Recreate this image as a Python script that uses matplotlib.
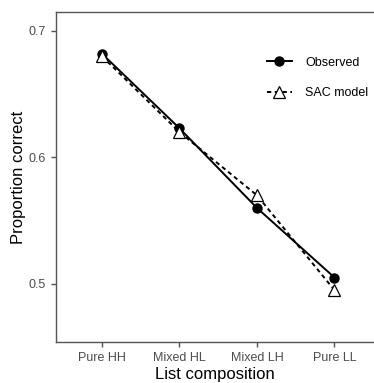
import matplotlib
matplotlib.use("Agg")
import matplotlib.pyplot as plt

conditions = ["Pure HH", "Mixed HL", "Mixed LH", "Pure LL"]
observed = [0.682, 0.623, 0.560, 0.505]
sac_model = [0.680, 0.620, 0.570, 0.495]
y_ticks = [0.5, 0.6, 0.7]

plt.rcParams['font.family'] = ['Liberation Sans', 'DejaVu Sans']

fig = plt.figure(figsize=(3.74, 3.83), dpi=100)
ax = fig.add_axes([55.5 / 374, 41 / 383, 1 - 55.5 / 374, 330 / 383])

x = list(range(len(conditions)))
ax.plot(x, observed, color='black', linestyle='-', linewidth=1.4,
        marker='o', markersize=6.5, markerfacecolor='black', label='Observed', zorder=3)
ax.plot(x, sac_model, color='black', linestyle=(0, (2.2, 1.8)), linewidth=1.4,
        marker='^', markersize=8.5, markerfacecolor='white', markeredgewidth=0.9,
        label='SAC model', zorder=4)

ax.set_xlim(-0.6, 3.51)
ax.set_ylim(0.454, 0.715)
ax.set_xticks(x)
ax.set_xticklabels(conditions)
ax.set_yticks(y_ticks)
ax.set_yticklabels([str(v) for v in y_ticks])

for side in ['left', 'bottom', 'top']:
    ax.spines[side].set_color('#555555')
    ax.spines[side].set_linewidth(1.0)
ax.spines['right'].set_visible(False)
ax.tick_params(colors='#555555', labelcolor='#4d4d4d', labelsize=9, length=3.5, width=1.0)

ax.set_xlabel('List composition', fontsize=12, color='black', labelpad=2)
ax.set_ylabel('Proportion correct', fontsize=12, color='black', labelpad=1.5)

ax.legend(loc='upper right', bbox_to_anchor=(1.018, 0.899), frameon=False, fontsize=9,
          handlelength=2.0, handletextpad=1.1, labelspacing=1.5)

fig.savefig('out.png', dpi=100)
